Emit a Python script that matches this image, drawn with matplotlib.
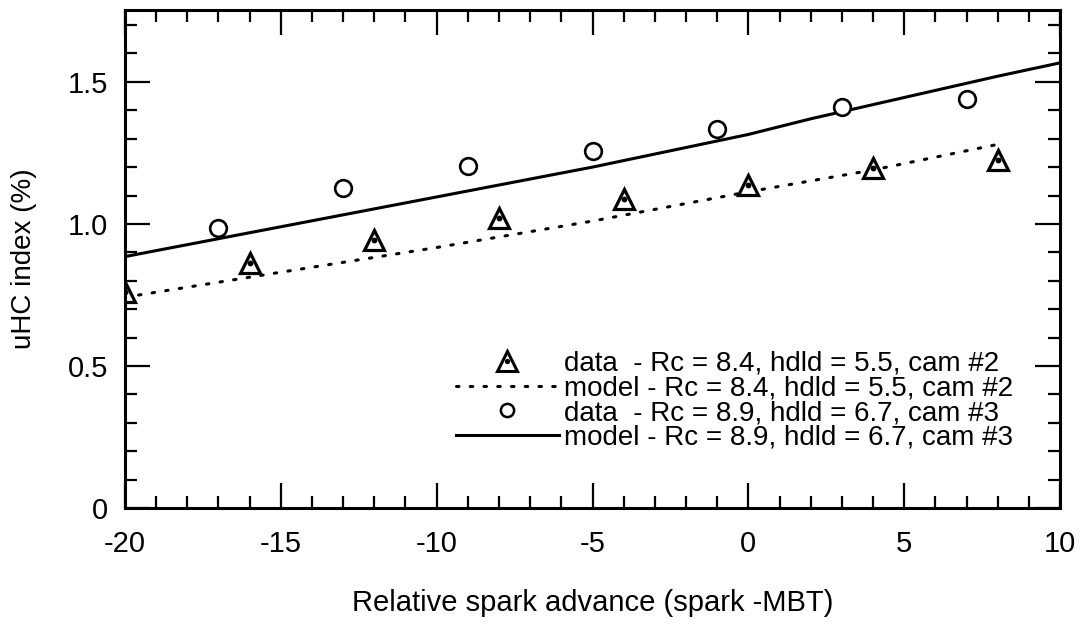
import numpy as np
import matplotlib
matplotlib.use("Agg")
import matplotlib.pyplot as plt
from matplotlib.ticker import MultipleLocator, FixedLocator
from matplotlib.legend_handler import HandlerTuple
from matplotlib.lines import Line2D

plt.rcParams['font.family'] = ['Liberation Sans', 'DejaVu Sans']

# data
tri_x = [-20, -16, -12, -8, -4, 0, 4, 8]
tri_y = [0.762, 0.862, 0.944, 1.02, 1.088, 1.137, 1.196, 1.225]

circ_x = [-17, -13, -9, -5, -1, 3, 7]
circ_y = [0.985, 1.128, 1.204, 1.257, 1.335, 1.41, 1.44]

dot_x = [-20, -15, -10, -5, 0, 4, 8]
dot_y = [0.742, 0.83, 0.917, 1.01, 1.113, 1.19, 1.28]

solid_x = [-20, -15, -10, -5, 0, 2, 4, 6, 8, 10]
solid_y = [0.885, 0.99, 1.095, 1.20, 1.315, 1.37, 1.42, 1.47, 1.52, 1.567]

xticks = [-20, -15, -10, -5, 0, 5, 10]
yticks = [0, 0.5, 1.0, 1.5]
ytick_labels = ['0', '0.5', '1.0', '1.5']

labels = ['data  - Rc = 8.4, hdld = 5.5, cam #2',
          'model - Rc = 8.4, hdld = 5.5, cam #2',
          'data  - Rc = 8.9, hdld = 6.7, cam #3',
          'model - Rc = 8.9, hdld = 6.7, cam #3']

fig = plt.figure(figsize=(10.82, 6.26), dpi=100)
ax = fig.add_axes([0.1155, 0.1885, 0.8642, 0.7955])

dotted = dict(color='black', lw=2.2, linestyle=(0, (0.8, 3.7)), dash_capstyle='round')
ax.plot(dot_x, dot_y, **dotted)
ax.plot(solid_x, solid_y, color='black', lw=2.2)
ax.plot(tri_x, tri_y, linestyle='none', marker='^', ms=15,
        mfc='white', mec='black', mew=2.3)
ax.plot(tri_x, tri_y, linestyle='none', marker='o', ms=4.2,
        mfc='black', mec='black', mew=0)
ax.plot(circ_x, circ_y, linestyle='none', marker='o', ms=12,
        mfc='white', mec='black', mew=1.9)

ax.set_xlim(-20, 10)
ax.set_ylim(0, 1.753)
ax.xaxis.set_major_locator(FixedLocator(xticks))
ax.xaxis.set_minor_locator(MultipleLocator(1))
ax.yaxis.set_major_locator(FixedLocator(yticks))
ax.yaxis.set_minor_locator(MultipleLocator(0.1))
ax.set_yticklabels(ytick_labels)
ax.set_xticklabels([str(v) for v in xticks])

ax.tick_params(which='both', direction='in', top=True, right=True, width=1.6)
ax.tick_params(which='major', length=18)
ax.tick_params(which='minor', length=8.5)
ax.tick_params(axis='x', which='major', labelsize=21, pad=16)
ax.tick_params(axis='y', which='major', labelsize=21, pad=12)
for s in ax.spines.values():
    s.set_linewidth(2.2)

ax.set_xlabel('Relative spark advance (spark -MBT)', fontsize=21, labelpad=22)
ax.set_ylabel('uHC index (%)', fontsize=20, labelpad=22)

# legend proxies
h_tri = Line2D([], [], linestyle='none', marker='^', ms=14, mfc='white', mec='black', mew=2.2)
h_tdot = Line2D([], [], linestyle='none', marker='o', ms=3.8, mfc='black', mew=0)
h_dot = Line2D([], [], **dotted)
h_circ = Line2D([], [], linestyle='none', marker='o', ms=9.5, mfc='white', mec='black', mew=1.8)
h_solid = Line2D([], [], color='black', lw=2.2)

leg = ax.legend([(h_tri, h_tdot), h_dot, h_circ, h_solid], labels,
                handler_map={tuple: HandlerTuple(ndivide=1, pad=0)},
                loc='lower right', bbox_to_anchor=(0.95, 0.115),
                frameon=False, fontsize=20, handlelength=3.7,
                handletextpad=0.2, labelspacing=-0.05,
                borderaxespad=0, borderpad=0)

fig.savefig('out.png', dpi=100)
